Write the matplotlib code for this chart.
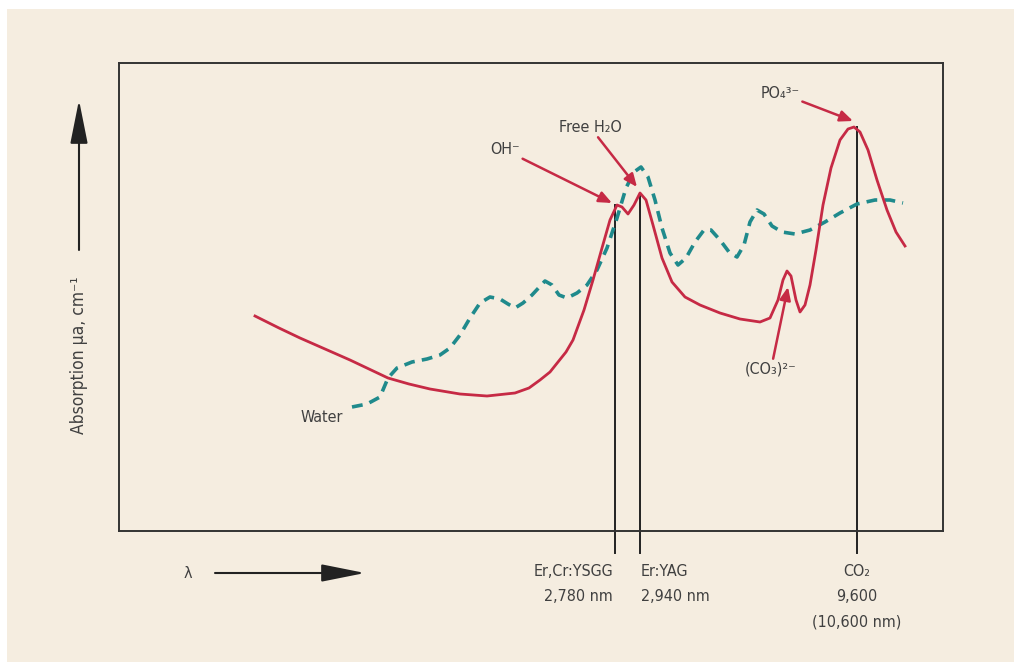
import matplotlib
matplotlib.use("Agg")
import matplotlib.pyplot as plt
from matplotlib.patches import Rectangle

plt.rcParams['font.family'] = ['DejaVu Sans']
plt.rcParams['font.stretch'] = 'condensed'

# ---------------- data (arbitrary units) ----------------
# tissue (hydroxyapatite) absorption, red solid
tissue_x = [136, 160, 181, 206, 231, 250, 269, 290, 311, 341, 368, 396, 410, 421, 431,
            439, 447, 454, 465, 474, 483, 491, 498, 503, 509, 515, 521, 527, 534, 543,
            553, 566, 581, 601, 621, 641, 651, 659, 664, 668, 672, 677, 681, 686, 691,
            697, 704, 712, 721, 729, 735, 741, 749, 758, 768, 777, 786]
tissue_y = [215, 203, 193, 182, 171, 162, 153, 147, 142, 137, 135, 138, 143, 151, 159,
            169, 179, 191, 221, 251, 283, 311, 326, 324, 317, 326, 338, 331, 306, 273,
            249, 234, 226, 218, 212, 209, 213, 231, 251, 260, 255, 231, 219, 226, 246,
            281, 326, 363, 391, 402, 404, 399, 381, 351, 321, 299, 285]

# water absorption, teal dashed
water_x = [233, 248, 261, 269, 278, 293, 308, 321, 331, 341, 351, 361, 371, 381, 389,
           396, 404, 413, 426, 433, 440, 448, 458, 468, 478, 488, 498, 507, 515, 522,
           529, 536, 543, 551, 559, 567, 576, 585, 592, 601, 610, 618, 625, 631, 638,
           645, 653, 663, 676, 691, 706, 721, 738, 756, 771, 784]
water_y = [124, 127, 134, 153, 163, 169, 172, 176, 183, 196, 213, 228, 234, 232, 227,
           223, 228, 236, 250, 246, 236, 233, 238, 246, 261, 283, 313, 343, 359, 364,
           354, 331, 303, 278, 266, 273, 289, 301, 301, 291, 279, 274, 286, 309, 321,
           317, 305, 299, 297, 301, 309, 318, 327, 331, 331, 328]

# laser lines
laser_x = [496, 521, 738]
laser_top = [326, 338, 404]
laser_names = ["Er,Cr:YSGG\n2,780 nm", "Er:YAG\n2,940 nm", "CO\u2082\n9,600\n(10,600 nm)"]

RED = "#c62a45"
TEAL = "#1f8a8c"
BEIGE = "#f5ede0"
INK = "#333333"
TXT = "#404040"
FS = 11.5

fig = plt.figure(figsize=(10.14, 6.62), dpi=100, facecolor="white")
fig.patches.append(Rectangle((7 / 1014, 0), 1, 653 / 662, transform=fig.transFigure,
                             facecolor=BEIGE, edgecolor="none", zorder=-10))

ax = fig.add_axes([119 / 1014, 131 / 662, 824 / 1014, 468 / 662])
ax.set_facecolor(BEIGE)
ax.set_xlim(0, 824)
ax.set_ylim(0, 468)
ax.set_xticks([])
ax.set_yticks([])
for s in ax.spines.values():
    s.set_color(INK)
    s.set_linewidth(1.4)

ax.plot(water_x, water_y, color=TEAL, lw=2.6, ls=(0, (3, 2)), zorder=3)
ax.plot(tissue_x, tissue_y, color=RED, lw=2.0, solid_joinstyle="round", zorder=4)

# laser wavelength lines and labels
for x, top in zip(laser_x, laser_top):
    ax.plot([x, x], [-22, top], color="#222222", lw=1.4, clip_on=False, zorder=2)
ax.text(laser_x[0] - 2, -33, laser_names[0], ha="right", va="top", fontsize=FS,
        color=TXT, linespacing=1.85, multialignment="right")
ax.text(laser_x[1] + 1, -33, laser_names[1], ha="left", va="top", fontsize=FS,
        color=TXT, linespacing=1.85)
ax.text(laser_x[2], -33, laser_names[2], ha="center", va="top", fontsize=FS,
        color=TXT, linespacing=1.85, multialignment="center")

# peak annotations
arrow = dict(arrowstyle="-|>,head_length=0.7,head_width=0.3", color=RED, lw=1.8,
             mutation_scale=11, shrinkA=0, shrinkB=0)
ax.annotate("OH\u207b", xy=(493, 328), xytext=(386, 381), ha="center", va="center",
            fontsize=FS, color=TXT, arrowprops=arrow)
ax.annotate("Free H\u2082O", xy=(518, 344), xytext=(471, 404), ha="center", va="center",
            fontsize=FS, color=TXT, arrowprops=arrow)
ax.annotate("PO\u2084\u00b3\u207b", xy=(734, 410), xytext=(661, 438), ha="center", va="center",
            fontsize=FS, color=TXT, arrowprops=arrow)
ax.annotate("(CO\u2083)\u00b2\u207b", xy=(669, 244), xytext=(652, 162), ha="center", va="center",
            fontsize=FS, color=TXT, arrowprops=arrow)
ax.text(203, 114, "Water", ha="center", va="center", fontsize=FS, color=TXT)

# axis arrows
big = dict(arrowstyle="-|>,head_length=0.9,head_width=0.18", color="#222222",
           lw=1.5, mutation_scale=30, shrinkA=0, shrinkB=0)
ax.annotate("", xy=(-40, 431), xytext=(-40, 281), annotation_clip=False, arrowprops=big)
ax.text(-40, 176, "Absorption \u00b5a, cm\u207b\u00b9", rotation=90, ha="center", va="center",
        fontsize=12.5, color=TXT)
ax.annotate("", xy=(246, -42), xytext=(96, -42), annotation_clip=False, arrowprops=big)
ax.text(69, -42, "\u03bb", ha="center", va="center", fontsize=FS, color=TXT)

fig.savefig("out.png", dpi=100, facecolor=fig.get_facecolor())
